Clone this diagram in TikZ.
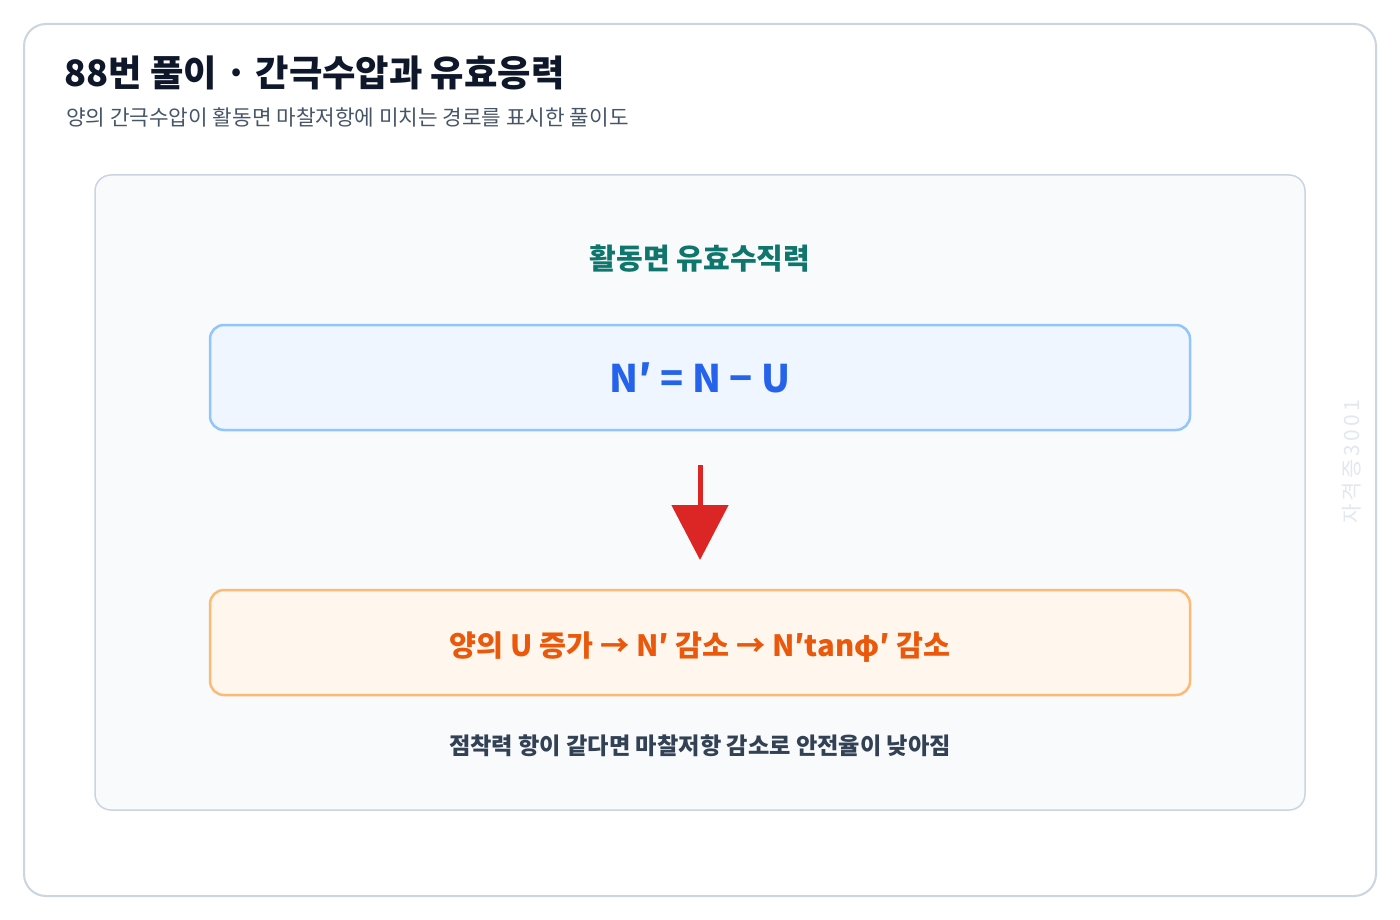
\documentclass[tikz,border=0pt]{standalone}
\usepackage{fontspec}
\setmainfont{Noto Sans CJK KR}
\usetikzlibrary{arrows.meta}
\definecolor{cardline}{HTML}{CBD5E1}
\definecolor{panelfill}{HTML}{F8FAFC}
\definecolor{titlecol}{HTML}{0F172A}
\definecolor{subcol}{HTML}{475569}
\definecolor{tealcol}{HTML}{0F766E}
\definecolor{bluefill}{HTML}{EFF6FF}
\definecolor{blueline}{HTML}{93C5FD}
\definecolor{bluetext}{HTML}{2563EB}
\definecolor{orfill}{HTML}{FFF7ED}
\definecolor{orline}{HTML}{FDBA74}
\definecolor{ortext}{HTML}{EA580C}
\definecolor{notecol}{HTML}{334155}
\definecolor{redcol}{HTML}{DC2626}
\definecolor{wmcol}{HTML}{E2E8F0}
\tikzset{
  eqbox/.style={draw=blueline, fill=bluefill, line width=2.5pt, rounded corners=14pt,
    minimum width=980pt, minimum height=105pt, inner sep=0pt},
  resbox/.style={draw=orline, fill=orfill, line width=2.5pt, rounded corners=14pt,
    minimum width=980pt, minimum height=105pt, inner sep=0pt},
  flowarrow/.style={draw=redcol, line width=5pt, -{Triangle[width=56pt,length=55pt,fill=redcol]}, shorten >=0pt}
}
\begin{document}
\begin{tikzpicture}[x=1pt,y=-1pt]
\useasboundingbox (0,0) rectangle (1400,920);
\fill[white] (0,0) rectangle (1400,920);
% outer card
\draw[cardline, line width=2pt, fill=white, rounded corners=22pt] (24,24) rectangle (1376,896);
% inner panel
\draw[cardline, line width=1.5pt, fill=panelfill, rounded corners=16pt] (95,175) rectangle (1305,810);
% title and subtitle
\node[anchor=base west, inner sep=0pt, text=titlecol, font=\fontsize{36.3}{42}\selectfont\bfseries] (title) at (64,87) {88번 풀이 · 간극수압과 유효응력};
\node[anchor=base west, inner sep=0pt, text=subcol, font=\fontsize{21.3}{25}\selectfont] (subtitle) at (66,126) {양의 간극수압이 활동면 마찰저항에 미치는 경로를 표시한 풀이도};
% panel heading
\node[inner sep=0pt, text=tealcol, font=\fontsize{29}{33}\selectfont\bfseries] (heading) at (700,259) {활동면 유효수직력};
% boxes
\node[eqbox, text=bluetext, font=\fontsize{38}{44}\selectfont\bfseries] (eq) at (700,377.5) {N′ = N − U};
\node[resbox] (res) at (700,642.5) {};
\node[inner sep=0pt, text=ortext, font=\fontsize{29.3}{34}\selectfont\bfseries] (restext) at ([yshift=-4.5pt]res.center) {양의 U 증가 → N′ 감소 → N′tanφ′ 감소};
% arrow
\coordinate (astart) at (700,465);
\coordinate (aend) at (700,560);
\draw[flowarrow] (astart) -- (aend);
% note
\node[inner sep=0pt, text=notecol, font=\fontsize{23.2}{27}\selectfont\bfseries] (note) at (700,746) {점착력 항이 같다면 마찰저항 감소로 안전율이 낮아짐};
% watermark
\node[rotate=90, inner sep=0pt, text=wmcol, font=\fontsize{21}{24}\selectfont\addfontfeature{LetterSpace=15}] (wm) at (1352,462) {자격증3001};
\end{tikzpicture}
\end{document}
